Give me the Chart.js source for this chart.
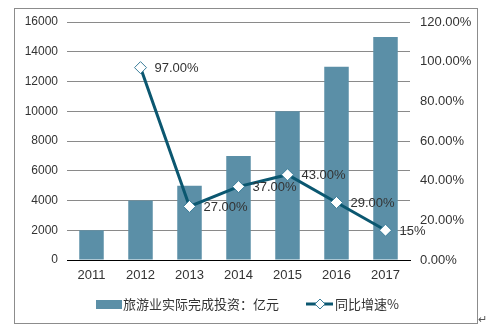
<!DOCTYPE html>
<html><head><meta charset="utf-8">
<script src="https://cdn.jsdelivr.net/npm/chart.js@4"></script>
<style>html,body{margin:0;padding:0;background:#fff}#wrap{position:relative;width:486px;height:327px}</style>
</head><body><div id="wrap"><canvas id="c" width="486" height="327"></canvas></div>
<script>
const categories = ['2011','2012','2013','2014','2015','2016','2017'];
const investment = [2000, 4000, 5000, 7000, 10000, 13000, 15000];
const growth = [null, 97, 27, 37, 43, 29, 15];
const growthLabels = [null, '97.00%', '27.00%', '37.00%', '43.00%', '29.00%', '15%'];
const seriesNames = ['旅游业实际完成投资：亿元', '同比增速%'];

const BAR = '#5b8fa7', LINE = '#0b5770', TXT = '#333333';
const FONT = "'Liberation Sans', Arial, sans-serif";

const decor = {
  id: 'decor',
  afterDraw(chart) {
    const ctx = chart.ctx;
    ctx.save();
    // outer frame
    ctx.strokeStyle = '#8c8c8c'; ctx.lineWidth = 1;
    ctx.strokeRect(14.5, 8.5, 463, 315);
    // data labels
    const meta = chart.getDatasetMeta(0);
    ctx.font = '13px ' + FONT; ctx.fillStyle = TXT;
    ctx.textBaseline = 'middle'; ctx.textAlign = 'left';
    meta.data.forEach((p, i) => {
      if (growthLabels[i] == null) return;
      ctx.fillText(growthLabels[i], p.x + 14, p.y + 1);
    });
    // legend
    const ly = 304;
    ctx.fillStyle = BAR; ctx.fillRect(96, ly - 4, 26, 9);
    ctx.fillStyle = TXT; ctx.font = "13px 'Noto Sans CJK SC', sans-serif";
    ctx.fillText(seriesNames[0], 123, ly);
    ctx.strokeStyle = LINE; ctx.lineWidth = 3;
    ctx.beginPath(); ctx.moveTo(306, ly); ctx.lineTo(333, ly); ctx.stroke();
    ctx.fillStyle = '#fff'; ctx.strokeStyle = '#3a7d99'; ctx.lineWidth = 1;
    ctx.beginPath(); ctx.moveTo(320, ly - 5); ctx.lineTo(325, ly); ctx.lineTo(320, ly + 5); ctx.lineTo(315, ly); ctx.closePath();
    ctx.fill(); ctx.stroke();
    ctx.fillStyle = TXT;
    ctx.fillText(seriesNames[1], 335, ly);
    // return mark
    ctx.font = '11px ' + FONT; ctx.fillStyle = '#555';
    ctx.fillText('↵', 478, 320);
    ctx.restore();
  }
};

new Chart(document.getElementById('c'), {
  data: {
    labels: categories,
    datasets: [
      { type: 'line', label: seriesNames[1], data: growth, yAxisID: 'y1', borderColor: LINE, borderWidth: 3,
        pointStyle: 'rectRot', pointRadius: 6, pointHoverRadius: 6, pointBackgroundColor: '#fff',
        pointBorderColor: '#3a7d99', pointBorderWidth: 1, spanGaps: false, order: 0, tension: 0 },
      { type: 'bar', label: seriesNames[0], data: investment, yAxisID: 'y', backgroundColor: BAR,
        categoryPercentage: 1, barPercentage: 0.5, order: 1 }
    ]
  },
  options: {
    responsive: false, animation: false, devicePixelRatio: 1,
    layout: { padding: { top: 22, bottom: 0, left: 0, right: 0 } },
    plugins: { legend: { display: false }, tooltip: { enabled: false } },
    scales: {
      x: {
        grid: { display: false, drawTicks: false },
        border: { display: true, color: '#000', width: 1 },
        ticks: { color: TXT, font: { family: FONT, size: 13 }, padding: 8, maxRotation: 0 },
        afterFit(s) { s.height = 67; }
      },
      y: {
        position: 'left', min: 0, max: 16000,
        ticks: { stepSize: 2000, color: TXT, font: { family: FONT, size: 12 }, padding: 9,
          callback: v => String(v) },
        grid: { color: '#8a8a8a', drawTicks: false },
        border: { display: false },
        afterFit(s) { s.width = 67; }
      },
      y1: {
        position: 'right', min: 0, max: 120,
        ticks: { stepSize: 20, color: TXT, font: { family: FONT, size: 13 }, padding: 10,
          callback: v => v.toFixed(2) + '%' },
        grid: { display: false, drawTicks: false },
        border: { display: false },
        afterFit(s) { s.width = 76; }
      }
    }
  },
  plugins: [decor]
});
</script></body></html>
